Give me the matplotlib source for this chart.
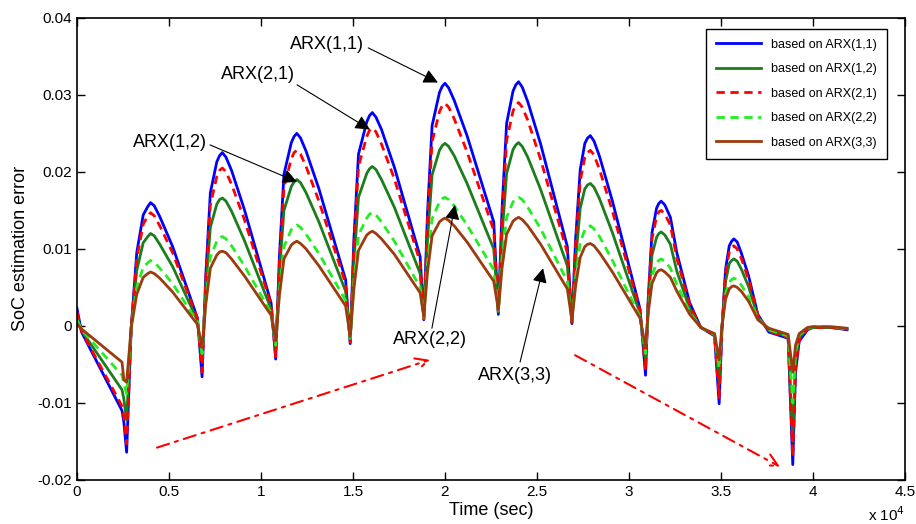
import numpy as np
import matplotlib
matplotlib.use('Agg')
import matplotlib.pyplot as plt

plt.rcParams['font.family'] = ['Liberation Sans', 'DejaVu Sans']

# time (s)
t = [0, 250, 2450, 2550, 2700, 2950, 3250, 3600, 3850, 4000, 4200, 4500, 5200, 6550,
     6800, 7000, 7250, 7600, 7750, 7900, 8100, 8400, 9100, 10550,
     10800, 11000, 11250, 11650, 11800, 11950, 12150, 12450, 13150, 14600,
     14850, 15050, 15300, 15750, 15900, 16050, 16250, 16550, 17250, 18650,
     18850, 19050, 19300, 19700, 19850, 20000, 20200, 20500, 21200, 22650,
     22900, 23100, 23350, 23700, 23850, 24000, 24200, 24500, 25200, 26650,
     26900, 27100, 27350, 27600, 27750, 27900, 28100, 28400, 29100, 30600,
     30900, 31050, 31250, 31500, 31620, 31750, 31950, 32250, 32600, 33300, 33900, 34650,
     34900, 35050, 35250, 35450, 35580, 35700, 35880, 36100, 36500, 37000, 37600, 38650,
     38900, 39050, 39250, 39700, 40000, 41000, 41850]

arx11 = [0.0023, -0.0008, -0.0110, -0.0125, -0.0164, -0.0002, 0.0095, 0.0144, 0.0155, 0.0160, 0.0156, 0.0142, 0.0103, 0.0010,
         -0.0066, 0.0065, 0.0173, 0.0213, 0.0221, 0.0225, 0.0219, 0.0202, 0.0151, 0.0030,
         -0.0043, 0.0089, 0.0197, 0.0238, 0.0246, 0.0250, 0.0244, 0.0227, 0.0178, 0.0060,
         -0.0023, 0.0112, 0.0223, 0.0265, 0.0273, 0.0277, 0.0271, 0.0255, 0.0206, 0.0090,
         0.0008, 0.0146, 0.0260, 0.0303, 0.0311, 0.0315, 0.0309, 0.0293, 0.0247, 0.0135,
         0.0015, 0.0151, 0.0263, 0.0305, 0.0313, 0.0317, 0.0310, 0.0291, 0.0236, 0.0103,
         0.0003, 0.0113, 0.0203, 0.0237, 0.0244, 0.0247, 0.0240, 0.0220, 0.0162, 0.0022,
         -0.0064, 0.0038, 0.0121, 0.0153, 0.0159, 0.0162, 0.0157, 0.0141, 0.0095, 0.0030, -0.0002, -0.0013,
         -0.0101, -0.0005, 0.0074, 0.0104, 0.0110, 0.0113, 0.0109, 0.0095, 0.0065, 0.0015, -0.0008, -0.0016,
         -0.0180, -0.0060, -0.0020, -0.0005, -0.0002, -0.0002, -0.0005]

arx12 = [0.0012, -0.0006, -0.0083, -0.0095, -0.0122, -0.0001, 0.0072, 0.0108, 0.0116, 0.0120, 0.0117, 0.0106, 0.0077, 0.0007,
         -0.0045, 0.0050, 0.0128, 0.0158, 0.0164, 0.0166, 0.0162, 0.0149, 0.0111, 0.0022,
         -0.0030, 0.0069, 0.0150, 0.0181, 0.0187, 0.0190, 0.0186, 0.0173, 0.0135, 0.0045,
         -0.0018, 0.0083, 0.0167, 0.0198, 0.0204, 0.0207, 0.0203, 0.0190, 0.0154, 0.0068,
         0.0010, 0.0112, 0.0196, 0.0228, 0.0234, 0.0237, 0.0233, 0.0221, 0.0185, 0.0100,
         0.0018, 0.0117, 0.0198, 0.0229, 0.0235, 0.0238, 0.0233, 0.0219, 0.0177, 0.0078,
         0.0005, 0.0086, 0.0153, 0.0178, 0.0183, 0.0185, 0.0180, 0.0165, 0.0121, 0.0016,
         -0.0045, 0.0030, 0.0092, 0.0115, 0.0120, 0.0122, 0.0118, 0.0106, 0.0071, 0.0022, -0.0002, -0.0012,
         -0.0075, -0.0002, 0.0058, 0.0081, 0.0085, 0.0087, 0.0084, 0.0074, 0.0051, 0.0012, -0.0006, -0.0014,
         -0.0150, -0.0045, -0.0015, -0.0004, -0.0002, -0.0002, -0.0004]

arx21 = [0.0018, -0.0007, -0.0104, -0.0118, -0.0153, -0.0003, 0.0087, 0.0132, 0.0143, 0.0147, 0.0143, 0.0130, 0.0095, 0.0009,
         -0.0060, 0.0059, 0.0157, 0.0194, 0.0202, 0.0205, 0.0200, 0.0184, 0.0138, 0.0028,
         -0.0040, 0.0081, 0.0180, 0.0217, 0.0225, 0.0228, 0.0223, 0.0207, 0.0162, 0.0055,
         -0.0021, 0.0104, 0.0207, 0.0246, 0.0254, 0.0257, 0.0252, 0.0236, 0.0191, 0.0083,
         0.0009, 0.0135, 0.0239, 0.0278, 0.0286, 0.0289, 0.0284, 0.0269, 0.0226, 0.0124,
         0.0016, 0.0139, 0.0241, 0.0279, 0.0287, 0.0290, 0.0284, 0.0267, 0.0216, 0.0095,
         0.0004, 0.0105, 0.0188, 0.0219, 0.0225, 0.0228, 0.0222, 0.0203, 0.0149, 0.0020,
         -0.0058, 0.0036, 0.0113, 0.0142, 0.0148, 0.0150, 0.0145, 0.0131, 0.0088, 0.0027, -0.0002, -0.0012,
         -0.0093, -0.0004, 0.0069, 0.0096, 0.0102, 0.0104, 0.0100, 0.0088, 0.0060, 0.0014, -0.0007, -0.0015,
         -0.0170, -0.0055, -0.0018, -0.0004, -0.0002, -0.0002, -0.0004]

arx22 = [0.0008, -0.0005, -0.0064, -0.0075, -0.0088, -0.0002, 0.0050, 0.0076, 0.0082, 0.0085, 0.0083, 0.0075, 0.0055, 0.0005,
         -0.0036, 0.0032, 0.0089, 0.0110, 0.0114, 0.0116, 0.0113, 0.0104, 0.0078, 0.0017,
         -0.0025, 0.0045, 0.0103, 0.0125, 0.0129, 0.0131, 0.0128, 0.0119, 0.0094, 0.0033,
         -0.0016, 0.0057, 0.0118, 0.0140, 0.0145, 0.0147, 0.0144, 0.0135, 0.0110, 0.0050,
         0.0011, 0.0081, 0.0139, 0.0161, 0.0165, 0.0167, 0.0164, 0.0156, 0.0131, 0.0073,
         0.0020, 0.0086, 0.0141, 0.0161, 0.0165, 0.0167, 0.0164, 0.0154, 0.0126, 0.0058,
         0.0006, 0.0062, 0.0108, 0.0125, 0.0128, 0.0130, 0.0126, 0.0116, 0.0085, 0.0012,
         -0.0036, 0.0019, 0.0065, 0.0082, 0.0085, 0.0087, 0.0084, 0.0075, 0.0054, 0.0018, -0.0002, -0.0011,
         -0.0055, -0.0002, 0.0041, 0.0057, 0.0060, 0.0062, 0.0060, 0.0053, 0.0038, 0.0010, -0.0005, -0.0013,
         -0.0100, -0.0035, -0.0012, -0.0003, -0.0001, -0.0001, -0.0004]

arx33 = [0.0003, -0.0004, -0.0047, -0.0070, -0.0073, -0.0002, 0.0041, 0.0063, 0.0068, 0.0070, 0.0068, 0.0062, 0.0044, 0.0002,
         -0.0028, 0.0028, 0.0075, 0.0092, 0.0096, 0.0097, 0.0095, 0.0087, 0.0065, 0.0014,
         -0.0019, 0.0039, 0.0087, 0.0105, 0.0108, 0.0110, 0.0107, 0.0100, 0.0078, 0.0026,
         -0.0014, 0.0048, 0.0098, 0.0118, 0.0121, 0.0123, 0.0120, 0.0113, 0.0093, 0.0043,
         0.0012, 0.0070, 0.0117, 0.0135, 0.0138, 0.0140, 0.0137, 0.0130, 0.0109, 0.0058,
         0.0021, 0.0075, 0.0119, 0.0136, 0.0139, 0.0141, 0.0138, 0.0130, 0.0106, 0.0048,
         0.0007, 0.0052, 0.0089, 0.0103, 0.0106, 0.0107, 0.0104, 0.0095, 0.0070, 0.0010,
         -0.0027, 0.0018, 0.0055, 0.0069, 0.0072, 0.0073, 0.0070, 0.0063, 0.0045, 0.0015, -0.0002, -0.0010,
         -0.0044, -0.0001, 0.0035, 0.0048, 0.0051, 0.0052, 0.0050, 0.0045, 0.0032, 0.0008, -0.0003, -0.0011,
         -0.0060, -0.0025, -0.0010, -0.0002, -0.0001, -0.0001, -0.0003]

labels = ['based on ARX(1,1)', 'based on ARX(1,2)', 'based on ARX(2,1)',
          'based on ARX(2,2)', 'based on ARX(3,3)']

# annotations: text, text centre, arrow tail, arrow tip
notes = [('ARX(1,1)', (13590, 0.0365), (15830, 0.0361), (19620, 0.0316)),
         ('ARX(2,1)', (9840, 0.0326), (11960, 0.0313), (15920, 0.0255)),
         ('ARX(1,2)', (5050, 0.0238), (7230, 0.0235), (11960, 0.0187)),
         ('ARX(2,2)', (19190, -0.0018), (19290, -0.0003), (20540, 0.0157)),
         ('ARX(3,3)', (23800, -0.0064), (24080, -0.0047), (25330, 0.0075))]
trend_arrows = [((4350, -0.0158), (19190, -0.0044)),
                ((27070, -0.0038), (38210, -0.0183))]

fig = plt.figure(figsize=(9.16, 5.24), dpi=100)
ax = fig.add_axes([0.084, 0.084, 0.904, 0.882])

ax.plot(t, arx11, color='#0000ff', lw=2.0, label=labels[0])
ax.plot(t, arx12, color='#1b7d1b', lw=2.0, label=labels[1])
ax.plot(t, arx21, color='#ff0000', lw=2.0, ls=(0, (3, 2)), label=labels[2])
ax.plot(t, arx22, color='#22ee22', lw=2.0, ls=(0, (3, 2)), label=labels[3])
ax.plot(t, arx33, color='#9c3b10', lw=2.0, label=labels[4])

for txt, pos, tail, tip in notes:
    ax.text(pos[0], pos[1], txt, fontsize=13, ha='center', va='center')
    ax.annotate('', xy=tip, xytext=tail,
                arrowprops=dict(arrowstyle='-|>', color='k', lw=0.8,
                                mutation_scale=22, shrinkA=0, shrinkB=0))

for start, tip in trend_arrows:
    ax.annotate('', xy=tip, xytext=start,
                arrowprops=dict(arrowstyle='->', color='red', lw=1.5,
                                ls=(0, (6, 3, 1.5, 3)), mutation_scale=22,
                                shrinkA=0, shrinkB=0))

ax.set_xlim(0, 45000)
ax.set_ylim(-0.02, 0.04)
xt = np.arange(0, 45001, 5000)
ax.set_xticks(xt)
ax.set_xticklabels(['0', '0.5', '1', '1.5', '2', '2.5', '3', '3.5', '4', '4.5'])
ax.set_yticks([-0.02, -0.01, 0, 0.01, 0.02, 0.03, 0.04])
ax.set_yticklabels(['-0.02', '-0.01', '0', '0.01', '0.02', '0.03', '0.04'])
ax.tick_params(direction='in', top=True, right=True, length=6, width=1, labelsize=11)
for s in ax.spines.values():
    s.set_linewidth(1.2)

ax.set_xlabel('Time (sec)', fontsize=13, labelpad=2)
ax.set_ylabel('SoC estimation error', fontsize=13, labelpad=6)
ax.text(1.0, -0.088, r'x 10$^4$', transform=ax.transAxes, ha='right', va='baseline', fontsize=11)

leg = ax.legend(loc='upper right', fontsize=9, handlelength=3.6, labelspacing=1.0,
                fancybox=False, edgecolor='k', framealpha=1, borderpad=0.8,
                bbox_to_anchor=(0.986, 0.99))
leg.get_frame().set_linewidth(1.0)

fig.savefig('out.png', dpi=100)
